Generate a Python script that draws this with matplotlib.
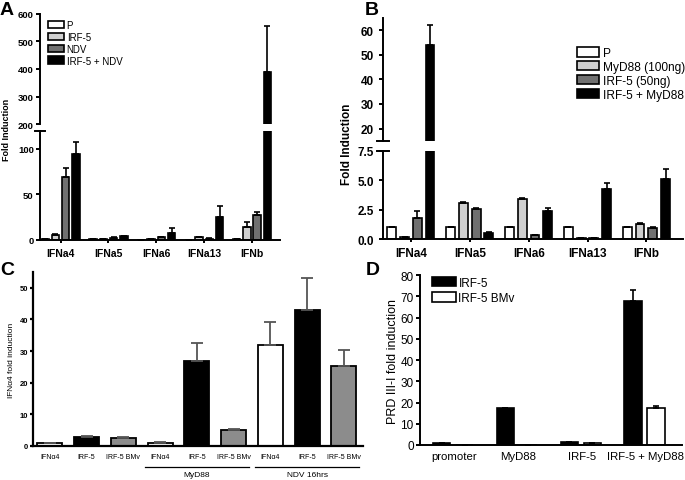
import matplotlib
matplotlib.use("Agg")
import matplotlib.pyplot as plt
import numpy as np

plt.rcParams['font.family'] = ['Liberation Sans', 'DejaVu Sans']

# ---------------- Panel A data ----------------
a_genes = ["IFNa4", "IFNa5", "IFNa6", "IFNa13", "IFNb"]
a_series = ["P", "IRF-5", "NDV", "IRF-5 + NDV"]
a_P = [1.0, 0.8, 0.5, 0.5, 1.0]
a_IRF5 = [6.0, 1.0, 1.0, 3.0, 14.0]
a_NDV = [69.0, 2.5, 3.0, 1.5, 27.5]
a_combo = [95.0, 4.0, 8.0, 25.0, 390.0]
a_P_err = [0, 0, 0, 0, 0]
a_IRF5_err = [0.8, 0, 0, 0.5, 6.0]
a_NDV_err = [10.0, 0.4, 0.8, 0.3, 3.5]
a_combo_err = [13.0, 0.6, 5.0, 12.0, 165.0]
a_colors = ["white", "#cfcfcf", "#707070", "black"]

# ---------------- Panel B data ----------------
b_genes = ["IFNa4", "IFNa5", "IFNa6", "IFNa13", "IFNb"]
b_series = ["P", "MyD88 (100ng)", "IRF-5 (50ng)", "IRF-5 + MyD88"]
b_P = [1.0, 1.0, 1.0, 1.0, 1.0]
b_MyD88 = [0.15, 3.1, 3.45, 0.05, 1.25]
b_IRF5 = [1.8, 2.6, 0.3, 0.1, 0.95]
b_combo = [54.0, 0.55, 2.4, 4.25, 5.1]
b_P_err = [0, 0, 0, 0, 0]
b_MyD88_err = [0, 0.05, 0.06, 0, 0.12]
b_IRF5_err = [0.6, 0.05, 0, 0, 0.05]
b_combo_err = [8.0, 0.03, 0.25, 0.55, 0.85]
b_colors = ["white", "#cfcfcf", "#707070", "black"]

# ---------------- Panel C data ----------------
c_labels = ["IFN\u03b14", "IRF-5", "IRF-5 BMv"] * 3
c_values = [1.0, 2.9, 2.6, 1.1, 27.0, 5.0, 32.0, 42.8, 25.3]
c_err = [0.0, 0.4, 0.3, 0.1, 5.5, 0.5, 7.3, 10.3, 5.0]
c_colors = ["white", "black", "#8c8c8c"] * 3
c_groups = ["MyD88", "NDV 16hrs"]

# ---------------- Panel D data ----------------
d_cats = ["promoter", "MyD88", "IRF-5", "IRF-5 + MyD88"]
d_series = ["IRF-5", "IRF-5 BMv"]
d_IRF5 = [1.0, 17.2, 1.2, 68.0]
d_BMv = [0.0, 0.0, 0.9, 17.5]
d_IRF5_err = [0.1, 0.4, 0.2, 4.8]
d_BMv_err = [0.0, 0.0, 0.1, 0.8]

fig = plt.figure(figsize=(6.85, 4.81), dpi=100)

LW = 1.4


def style_axes(ax, lw=LW):
    for s in ["top", "right"]:
        ax.spines[s].set_visible(False)
    for s in ["left", "bottom"]:
        ax.spines[s].set_linewidth(lw)
    ax.tick_params(width=lw, length=3)


def broken_pair(rect_upper, rect_lower):
    up = fig.add_axes(rect_upper)
    lo = fig.add_axes(rect_lower)
    for ax in (up, lo):
        style_axes(ax)
    up.spines["bottom"].set_visible(False)
    up.tick_params(axis="x", bottom=False, labelbottom=False)
    return up, lo


def draw_grouped(axes, series_vals, series_errs, colors, width, offsets):
    x = np.arange(len(series_vals[0]))
    for ax in axes:
        for vals, errs, col, off in zip(series_vals, series_errs, colors, offsets):
            ax.bar(x + off, vals, width, color=col, edgecolor="black", linewidth=1.2,
                   yerr=[np.zeros(len(errs)), errs], capsize=2,
                   error_kw=dict(ecolor="black", elinewidth=1.2, capthick=1.2), zorder=2)


# ================= Panel A =================
axA_up, axA_lo = broken_pair([0.0584, 0.740, 0.350, 0.229], [0.0584, 0.499, 0.350, 0.227])
offA = [-0.322, -0.107, 0.107, 0.322]
draw_grouped([axA_up, axA_lo], [a_P, a_IRF5, a_NDV, a_combo],
             [a_P_err, a_IRF5_err, a_NDV_err, a_combo_err], a_colors, 0.155, offA)
for ax in (axA_up, axA_lo):
    ax.set_xlim(-0.43, 4.58)
axA_up.set_ylim(200, 600)
axA_up.set_yticks([200, 300, 400, 500, 600])
axA_lo.set_ylim(0, 120)
axA_lo.set_yticks([0, 50, 100])
axA_lo.set_xticks(np.arange(len(a_genes)))
axA_lo.set_xticklabels(a_genes, fontsize=7.5, fontweight="bold")
for ax in (axA_up, axA_lo):
    ax.tick_params(axis="y", pad=1.5)
    for t in ax.get_yticklabels():
        t.set_fontsize(6.8)
        t.set_fontweight("bold")
axA_lo.tick_params(axis="x", length=2)
fig.text(0.009, 0.73, "Fold Induction", rotation=90, ha="center", va="center",
         fontsize=6.5, fontweight="bold")
handlesA = [plt.Rectangle((0, 0), 1, 1, facecolor=c, edgecolor="black", linewidth=1.2) for c in a_colors]
axA_up.legend(handlesA, a_series, loc="upper left", bbox_to_anchor=(0.01, 1.0), frameon=False,
              fontsize=7, handlelength=1.6, handleheight=0.8, handletextpad=0.3,
              labelspacing=0.2, borderaxespad=0.2)
axA_lo.plot([-0.02, 0.02], [1, 1], transform=axA_lo.transAxes, color="black", lw=LW, clip_on=False)

# ================= Panel B =================
axB_up, axB_lo = broken_pair([0.559, 0.705, 0.438, 0.256], [0.559, 0.501, 0.438, 0.183])
offB = [-0.324, -0.108, 0.108, 0.324]
draw_grouped([axB_up, axB_lo], [b_P, b_MyD88, b_IRF5, b_combo],
             [b_P_err, b_MyD88_err, b_IRF5_err, b_combo_err], b_colors, 0.15, offB)
for ax in (axB_up, axB_lo):
    ax.set_xlim(-0.475, 4.62)
axB_up.set_ylim(15, 65)
axB_up.set_yticks([20, 30, 40, 50, 60])
axB_lo.set_ylim(0, 7.5)
axB_lo.set_yticks([0, 2.5, 5.0, 7.5])
axB_lo.set_yticklabels(["0.0", "2.5", "5.0", "7.5"])
axB_lo.set_xticks(np.arange(len(b_genes)))
axB_lo.set_xticklabels(b_genes, fontsize=8.5, fontweight="bold")
for ax in (axB_up, axB_lo):
    for t in ax.get_yticklabels():
        t.set_fontsize(8.5)
        t.set_fontweight("bold")
axB_lo.tick_params(axis="x", length=2)
fig.text(0.506, 0.70, "Fold Induction", rotation=90, ha="center", va="center",
         fontsize=8.5, fontweight="bold")
handlesB = [plt.Rectangle((0, 0), 1, 1, facecolor=c, edgecolor="black", linewidth=1.2) for c in b_colors]
axB_up.legend(handlesB, b_series, loc="upper left", bbox_to_anchor=(0.63, 0.80), frameon=False,
              fontsize=8.6, handlelength=1.9, handleheight=0.8, handletextpad=0.3,
              labelspacing=0.15, borderaxespad=0.0)
axB_up.plot([-0.02, 0.02], [0, 0], transform=axB_up.transAxes, color="black", lw=LW, clip_on=False)
axB_lo.plot([-0.02, 0.02], [1, 1], transform=axB_lo.transAxes, color="black", lw=LW, clip_on=False)

# ================= Panel C =================
axC = fig.add_axes([0.048, 0.0707, 0.482, 0.362])
style_axes(axC, lw=1.6)
xc = np.arange(len(c_values))
axC.bar(xc, c_values, 0.68, color=c_colors, edgecolor="black", linewidth=1.3,
        yerr=[np.zeros(len(c_err)), c_err], capsize=4,
        error_kw=dict(ecolor="#555555", elinewidth=1.3, capthick=1.3), zorder=2)
axC.set_xlim(-0.46, 8.52)
axC.set_ylim(0, 55)
axC.set_yticks([0, 10, 20, 30, 40, 50])
axC.tick_params(axis="y", length=2, pad=1.5)
for t in axC.get_yticklabels():
    t.set_fontsize(5.5)
    t.set_fontweight("bold")
axC.set_xticks(xc)
axC.set_xticklabels(c_labels, fontsize=5)
axC.tick_params(axis="x", length=0, pad=5)
axC.set_ylabel("IFN\u03b14 fold induction", fontsize=6, labelpad=3)
for gi, name in enumerate(c_groups):
    x0 = 3 + 3 * gi - 0.42
    x1 = 5 + 3 * gi + 0.42
    axC.plot([x0, x1], [-0.118, -0.118], transform=axC.get_xaxis_transform(),
             color="black", lw=0.9, clip_on=False)
    axC.text((x0 + x1) / 2, -0.165, name, transform=axC.get_xaxis_transform(),
             ha="center", va="center", fontsize=6)

# ================= Panel D =================
axD = fig.add_axes([0.613, 0.0728, 0.382, 0.353])
style_axes(axD, lw=1.4)
xd = np.arange(len(d_cats))
axD.bar(xd - 0.18, d_IRF5, 0.27, color="black", edgecolor="black", linewidth=1.2,
        yerr=[np.zeros(len(d_IRF5_err)), d_IRF5_err], capsize=2.5,
        error_kw=dict(ecolor="black", elinewidth=1.2, capthick=1.2), zorder=2)
axD.bar(xd + 0.18, d_BMv, 0.27, color="white", edgecolor="black", linewidth=1.2,
        yerr=[np.zeros(len(d_BMv_err)), d_BMv_err], capsize=2.5,
        error_kw=dict(ecolor="black", elinewidth=1.2, capthick=1.2), zorder=2)
axD.set_xlim(-0.52, 3.58)
axD.set_ylim(0, 80)
axD.set_yticks(np.arange(0, 81, 10))
axD.tick_params(axis="y", labelsize=8.5, length=3, pad=1.5)
axD.set_xticks(xd + 0.02)
axD.set_xticklabels(d_cats, fontsize=8.2)
axD.tick_params(axis="x", length=0, pad=4)
axD.set_ylabel("PRD III-I fold induction", fontsize=9, labelpad=1)
handlesD = [plt.Rectangle((0, 0), 1, 1, facecolor=c, edgecolor="black", linewidth=1.2) for c in ["black", "white"]]
axD.legend(handlesD, d_series, loc="upper left", bbox_to_anchor=(0.03, 1.02), frameon=False,
           fontsize=8.5, handlelength=2.0, handleheight=0.9, handletextpad=0.2,
           labelspacing=0.3, borderaxespad=0.0)

# Panel letters
for letter, (x, y) in {"A": (0.0, 0.995), "B": (0.532, 0.995), "C": (0.0, 0.455), "D": (0.534, 0.455)}.items():
    fig.text(x, y, letter, fontsize=14, fontweight="bold", ha="left", va="top")

fig.savefig("out.png", dpi=100)
